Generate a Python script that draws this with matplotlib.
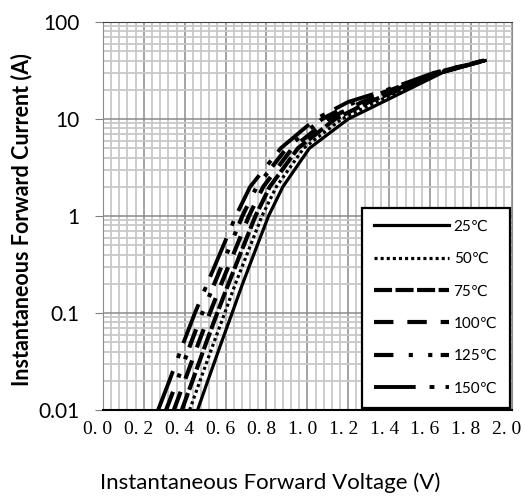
import matplotlib
matplotlib.use('Agg')
import matplotlib.pyplot as plt
import matplotlib.transforms as mtransforms
from matplotlib.ticker import MultipleLocator, LogLocator, NullFormatter, FixedLocator, FixedFormatter

plt.rcParams['font.family'] = ['Lato', 'DejaVu Sans']
plt.rcParams['lines.scale_dashes'] = False

# forward current levels (A) and the voltage (V)
current = [0.01, 0.02, 0.05, 0.1, 0.2, 0.5, 1, 2, 5, 10, 15, 20, 30, 40]
v_25 = [0.463, 0.513, 0.580, 0.632, 0.683, 0.755, 0.810, 0.880, 1.010, 1.200, 1.370, 1.490, 1.660, 1.870]
v_50 = [0.424, 0.475, 0.543, 0.596, 0.648, 0.722, 0.778, 0.848, 0.982, 1.168, 1.336, 1.470, 1.652, 1.868]
v_75 = [0.386, 0.438, 0.506, 0.559, 0.614, 0.689, 0.746, 0.816, 0.954, 1.136, 1.302, 1.450, 1.644, 1.866]
v_100 = [0.347, 0.400, 0.469, 0.523, 0.579, 0.656, 0.714, 0.784, 0.926, 1.104, 1.268, 1.430, 1.636, 1.864]
v_125 = [0.309, 0.363, 0.432, 0.486, 0.545, 0.623, 0.682, 0.752, 0.898, 1.072, 1.234, 1.410, 1.628, 1.862]
v_150 = [0.270, 0.325, 0.395, 0.450, 0.510, 0.590, 0.650, 0.720, 0.870, 1.040, 1.200, 1.390, 1.620, 1.860]

labels = ['25℃', '50℃', '75℃', '100℃', '125℃', '150℃']
x_ticks = [0.0, 0.2, 0.4, 0.6, 0.8, 1.0, 1.2, 1.4, 1.6, 1.8, 2.0]
x_ticklabels = ['0. 0', '0. 2', '0. 4', '0. 6', '0. 8', '1. 0', '1. 2', '1. 4', '1. 6', '1. 8', '2. 0']
y_ticks = [0.01, 0.1, 1, 10, 100]
y_ticklabels = ['0.01', '0.1', '1', '10', '100']

fig = plt.figure(figsize=(5.25, 5.0), dpi=100)
ax = fig.add_axes([0.196, 0.18, 0.779, 0.776])

ax.plot(v_25, current, color='black', lw=2.3, ls='-', label=labels[0])
ax.plot(v_50, current, color='black', lw=2.3, ls=(0, (2.2, 2.2)), label=labels[1])
ax.plot(v_75, current, color='black', lw=3.0, ls=(0, (13, 2.5)), label=labels[2])
ax.plot(v_100, current, color='black', lw=3.0, ls=(0, (14, 10)), label=labels[3])
ax.plot(v_125, current, color='black', lw=3.0, ls=(0, (14, 11, 3, 11, 3, 6)), label=labels[4])
ax.plot(v_150, current, color='black', lw=2.8, ls=(0, (30, 10, 3.5, 8)), label=labels[5])

ax.set_yscale('log')
ax.set_xlim(0, 2.0)
ax.set_ylim(0.01, 100)

ax.xaxis.set_major_locator(FixedLocator(x_ticks))
ax.xaxis.set_major_formatter(FixedFormatter(x_ticklabels))
ax.xaxis.set_minor_locator(MultipleLocator(0.04))
ax.yaxis.set_major_locator(FixedLocator(y_ticks))
ax.yaxis.set_major_formatter(FixedFormatter(y_ticklabels))
ax.yaxis.set_minor_locator(LogLocator(base=10, subs=range(2, 10)))
ax.yaxis.set_minor_formatter(NullFormatter())

ax.grid(which='minor', color='#c8c8c8', lw=1.3)
ax.grid(which='major', color='#8a8a8a', lw=1.1)
ax.set_axisbelow(True)

ax.tick_params(axis='x', which='both', length=0, labelsize=14, pad=8)
ax.tick_params(axis='y', which='major', length=6, color='#808080', labelsize=15, pad=11)
ax.tick_params(axis='y', which='minor', length=0)

# the reference labels sit a few pixels left of their ticks
shift = mtransforms.ScaledTranslation(-5 / 100, 0, fig.dpi_scale_trans)
for lab in ax.get_xticklabels():
    lab.set_family('Liberation Serif')
    lab.set_transform(lab.get_transform() + shift)

for s in ['left', 'right']:
    ax.spines[s].set_color('#8a8a8a')
ax.spines['top'].set_color('#404040')
ax.spines['bottom'].set_color('black')
ax.spines['bottom'].set_linewidth(1.5)

ax.set_ylabel('Instantaneous Forward Current (A)', fontsize=15.5, fontweight='bold', va='center')
ax.yaxis.set_label_coords(-0.2, 0.49)
ax.set_xlabel('Instantaneous Forward Voltage (V)', fontsize=16, va='center')
ax.xaxis.set_label_coords(0.408, -0.188)

leg = ax.legend(loc='lower right', fontsize=11, handlelength=4.9, handletextpad=0.3,
                labelspacing=1.2, borderaxespad=0.15, fancybox=False, framealpha=1,
                edgecolor='black', borderpad=0.8)
leg.get_frame().set_linewidth(1.6)

fig.savefig('out.png', dpi=100)
